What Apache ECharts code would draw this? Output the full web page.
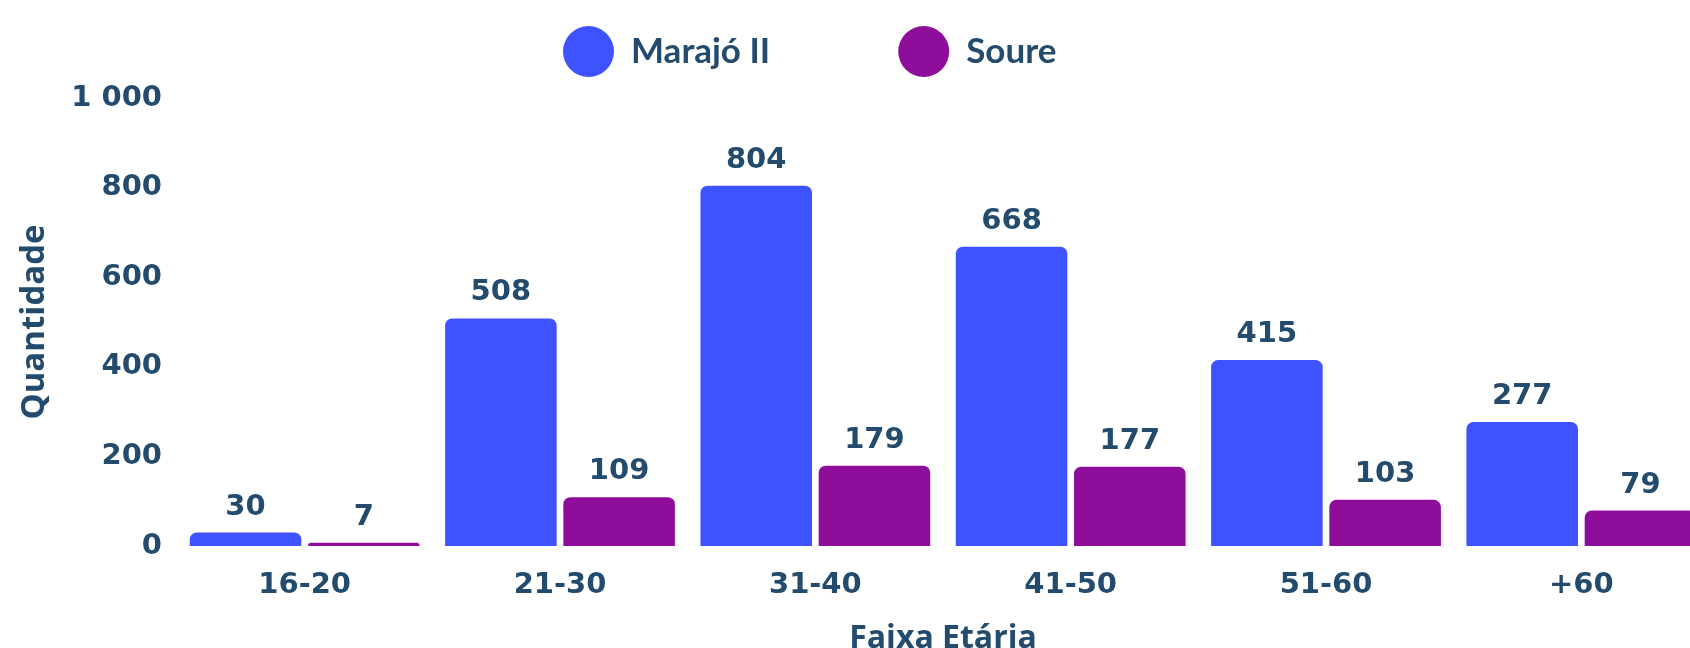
<!DOCTYPE html>
<html>
<head>
<meta charset="utf-8">
<script src="https://cdn.jsdelivr.net/npm/echarts@6/dist/echarts.min.js"></script>
<style>
html,body{margin:0;padding:0;background:#fff;overflow:hidden;}
#chart{width:1690px;height:648px;}
</style>
</head>
<body>
<div id="chart"></div>
<script>
const categories = ['16-20', '21-30', '31-40', '41-50', '51-60', '+60'];
const marajoII = [30, 508, 804, 668, 415, 277];
const soure = [7, 109, 179, 177, 103, 79];
const seriesNames = ['Marajó II', 'Soure'];
const yTicks = { min: 0, max: 1000, interval: 200 };

const TEXT = '#234B6E';
const BLUE = '#3F52FF';
const PURPLE = '#8E0E9B';
const NUM_FONT = '"DejaVu Sans", sans-serif';

const chart = echarts.init(document.getElementById('chart'), null, { renderer: 'canvas' });

const labelCfg = {
  show: true,
  position: 'top',
  distance: 11,
  color: TEXT,
  fontFamily: NUM_FONT,
  fontWeight: 'bold',
  fontSize: 29
};

chart.setOption({
  animation: false,
  backgroundColor: '#ffffff',
  legend: {
    left: 558,
    top: 21,
    itemWidth: 51,
    itemHeight: 51,
    itemGap: 128,
    icon: 'circle',
    data: seriesNames,
    textStyle: {
      color: TEXT,
      fontFamily: 'Lato, sans-serif',
      fontWeight: 'bold',
      fontSize: 35,
      padding: [0, 0, 0, 12]
    }
  },
  grid: {
    left: 177,
    top: 98,
    width: 1532,
    bottom: 102,
    containLabel: false,
    outerBoundsMode: 'none'
  },
  xAxis: {
    type: 'category',
    data: categories,
    name: 'Faixa Etária',
    nameLocation: 'middle',
    nameGap: 77,
    nameTextStyle: {
      color: TEXT,
      fontFamily: '"Open Sans", sans-serif',
      fontWeight: 'bold',
      fontSize: 32
    },
    axisLine: { show: false },
    axisTick: { show: false },
    axisLabel: {
      margin: 25,
      color: TEXT,
      fontFamily: NUM_FONT,
      fontWeight: 'bold',
      fontSize: 29
    }
  },
  yAxis: {
    type: 'value',
    min: yTicks.min,
    max: yTicks.max,
    interval: yTicks.interval,
    name: 'Quantidade',
    nameLocation: 'middle',
    nameGap: 126,
    nameTextStyle: {
      color: TEXT,
      fontFamily: '"Open Sans", sans-serif',
      fontWeight: 'bold',
      fontSize: 33
    },
    axisLine: { show: false },
    axisTick: { show: false },
    splitLine: { show: false },
    axisLabel: {
      margin: 15,
      color: TEXT,
      fontFamily: NUM_FONT,
      fontWeight: 'bold',
      fontSize: 29,
      formatter: function (v) {
        return String(v).replace(/\B(?=(\d{3})+(?!\d))/g, ' ');
      }
    }
  },
  series: [
    {
      name: seriesNames[0],
      type: 'bar',
      data: marajoII,
      barCategoryGap: '10%',
      barGap: '6%',
      itemStyle: { color: BLUE, borderRadius: [7, 7, 0, 0] },
      label: labelCfg
    },
    {
      name: seriesNames[1],
      type: 'bar',
      data: soure,
      barCategoryGap: '10%',
      barGap: '6%',
      itemStyle: { color: PURPLE, borderRadius: [7, 7, 0, 0] },
      label: labelCfg
    }
  ]
});
</script>
</body>
</html>
